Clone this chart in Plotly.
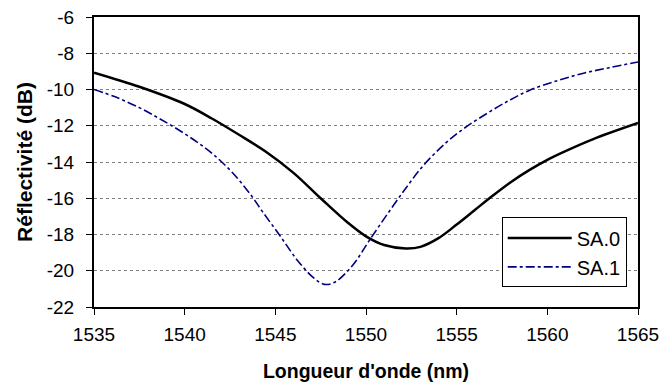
import plotly.graph_objects as go

# SA.0 (solid black)
sa0_wl = [1535, 1537.5, 1540, 1541.5, 1543, 1544.5, 1546, 1547.5, 1549, 1550, 1551, 1552.2,
          1553, 1554, 1555, 1556, 1557, 1558, 1559, 1560, 1561, 1562.5, 1565]
sa0_r = [-9.07, -9.85, -10.8, -11.6, -12.5, -13.45, -14.6, -16.0, -17.35, -18.1, -18.58, -18.77,
         -18.68, -18.2, -17.45, -16.65, -15.85, -15.1, -14.45, -13.88, -13.4, -12.75, -11.85]

# SA.1 (dash-dot navy)
sa1_wl = [1535, 1536.2, 1537.5, 1538.6, 1539.7, 1540.8, 1541.6, 1542.6, 1543.6, 1544.3, 1545.3,
          1546.2, 1547.1, 1547.7, 1548.3, 1549.3, 1550.2, 1551.3, 1552.3, 1553.2, 1554.4, 1555.4,
          1556.7, 1557.9, 1559, 1560.5, 1562, 1563.5, 1565]
sa1_r = [-10.0, -10.42, -11.0, -11.6, -12.25, -12.98, -13.6, -14.55, -15.75, -16.75, -18.13,
         -19.4, -20.38, -20.75, -20.62, -19.65, -18.3, -16.7, -15.3, -14.15, -12.95, -12.15,
         -11.3, -10.6, -10.05, -9.53, -9.1, -8.78, -8.48]

x_ticks = [1535, 1540, 1545, 1550, 1555, 1560, 1565]
y_ticks = [-22, -20, -18, -16, -14, -12, -10, -8, -6]

FONT = "Liberation Sans"

fig = go.Figure()
fig.add_trace(go.Scatter(x=sa0_wl, y=sa0_r, mode="lines", name="SA.0",
                         line=dict(color="black", width=2.5, shape="spline", smoothing=1)))
fig.add_trace(go.Scatter(x=sa1_wl, y=sa1_r, mode="lines", name="SA.1",
                         line=dict(color="#000080", width=1.6, dash="dashdot", shape="spline",
                                   smoothing=1)))

fig.update_layout(
    width=663, height=387,
    margin=dict(l=94, r=25, t=17, b=80, autoexpand=False),
    paper_bgcolor="white", plot_bgcolor="white",
    font=dict(family=FONT, size=19, color="black"),
    showlegend=True,
    legend=dict(x=0.7495, y=0.309, xanchor="left", yanchor="top",
                bgcolor="white", bordercolor="black", borderwidth=1,
                font=dict(family=FONT, size=20, color="black"),
                itemwidth=64, tracegroupgap=0),
    xaxis=dict(range=[1535, 1565], tickvals=x_ticks, ticktext=[str(v) for v in x_ticks],
               showline=True, linecolor="black", linewidth=2, mirror=True,
               ticks="outside", ticklen=6, tickcolor="black", tickwidth=1,
               ticklabelstandoff=3,
               showgrid=False, zeroline=False, automargin=False,
               title=dict(text="<b>Longueur d'onde (nm)</b>", font=dict(size=19.5), standoff=21)),
    yaxis=dict(range=[-22, -6], tickvals=y_ticks, ticktext=[str(v) for v in y_ticks],
               showline=True, linecolor="black", linewidth=2, mirror=True,
               ticks="outside", ticklen=6, tickcolor="black", tickwidth=1,
               ticklabelstandoff=8,
               showgrid=True, gridcolor="#808080", gridwidth=1, griddash="dot",
               zeroline=False, automargin=False,
               title=dict(text="<b>Réflectivité (dB)</b>", font=dict(size=21), standoff=8)),
)

fig.write_html("out.html",
               config={"displayModeBar": False},
               post_script="document.body.style.margin='0';document.body.style.padding='0';")
